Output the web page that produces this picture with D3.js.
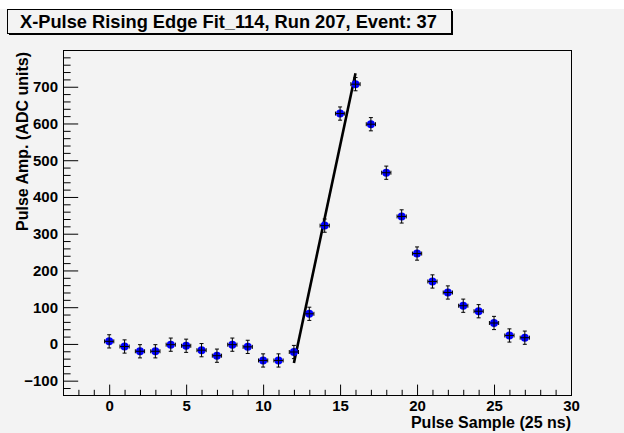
<!DOCTYPE html>
<html>
<head>
<meta charset="utf-8">
<script src="https://cdn.jsdelivr.net/npm/d3@7"></script>
<style>
  html, body { margin: 0; padding: 0; background: #f3f3f3; }
  svg { display: block; font-family: "Liberation Sans", Arial, Helvetica, sans-serif; }
</style>
</head>
<body>
<svg id="chart" width="624" height="433"></svg>
<script>
// Pulse samples (25 ns bins) and measured amplitudes in ADC units
const sampleIndex = [0, 1, 2, 3, 4, 5, 6, 7, 8, 9, 10, 11, 12, 13,
                     14, 15, 16, 17, 18, 19, 20, 21, 22, 23, 24, 25, 26, 27];
const amplitude   = [7, -7, -20, -20, -2, -5, -17, -32, -2, -8, -45, -45, -22, 82,
                     322, 627, 707, 598, 466, 347, 246, 170, 140, 104, 89, 57, 23, 17];
const sampleErr    = 0.3;   // half-width of horizontal error bar (samples)
const amplitudeErr = 18;    // half-height of vertical error bar (ADC units)

// Linear fit to the rising edge: end points of the fitted segment
const fitX = [12, 16];
const fitY = [-52, 737];

// Axis ticks
const xMajorTicks = [0, 5, 10, 15, 20, 25, 30];
const yMajorTicks = [-100, 0, 100, 200, 300, 400, 500, 600, 700];
const xDomain = [-3, 30];
const yDomain = [-139, 800];

const titleText  = "X-Pulse Rising Edge Fit_114, Run 207, Event: 37";
const xAxisTitle = "Pulse Sample (25 ns)";
const yAxisTitle = "Pulse Amp. (ADC units)";

const svg = d3.select("#chart");
const W = 624, H = 433;
const frame = { left: 63, right: 571, top: 50, bottom: 395 };

// canvas
svg.append("rect").attr("width", W).attr("height", H).attr("fill", "#f3f3f3");
svg.append("rect").attr("width", W).attr("height", 9).attr("fill", "#ffffff");

const x = d3.scaleLinear().domain(xDomain).range([frame.left, frame.right]);
const y = d3.scaleLinear().domain(yDomain).range([frame.bottom, frame.top]);

const xMinorTicks = d3.range(-3, 31).filter(v => v % 5 !== 0);
const yMinorTicks = d3.range(-120, 800, 20).filter(v => v % 100 !== 0);

const tickLenX = 10.4, tickLenY = 15.2;

// x axis: major ticks with labels, minor ticks without
const gx = svg.append("g").attr("transform", `translate(0,${frame.bottom})`);
gx.call(d3.axisBottom(x).tickValues(xMajorTicks).tickSize(-tickLenX).tickPadding(5)
          .tickFormat(d3.format("d")));
const gxMinor = svg.append("g").attr("transform", `translate(0,${frame.bottom})`);
gxMinor.call(d3.axisBottom(x).tickValues(xMinorTicks).tickSize(-tickLenX / 2).tickFormat(""));
gxMinor.select(".domain").remove();

// y axis
const gy = svg.append("g").attr("transform", `translate(${frame.left},0)`);
gy.call(d3.axisLeft(y).tickValues(yMajorTicks).tickSize(-tickLenY).tickPadding(5)
          .tickFormat(d3.format("d")));
const gyMinor = svg.append("g").attr("transform", `translate(${frame.left},0)`);
gyMinor.call(d3.axisLeft(y).tickValues(yMinorTicks).tickSize(-tickLenY / 2).tickFormat(""));
gyMinor.select(".domain").remove();

svg.selectAll(".tick line").attr("stroke", "#000").attr("stroke-width", 1);
svg.selectAll(".domain").remove();
svg.selectAll(".tick text")
  .attr("fill", "#000")
  .attr("font-size", 15)
  .attr("font-weight", "bold")
  .attr("font-family", "'Liberation Sans', Arial, sans-serif");

// frame
svg.append("rect")
  .attr("x", frame.left + 0.5).attr("y", frame.top + 0.5)
  .attr("width", frame.right - frame.left).attr("height", frame.bottom - frame.top)
  .attr("fill", "none").attr("stroke", "#000").attr("stroke-width", 1);

// axis titles
svg.append("text")
  .attr("x", frame.right).attr("y", 428)
  .attr("text-anchor", "end")
  .attr("font-size", 16).attr("font-weight", "bold")
  .text(xAxisTitle);

svg.append("text")
  .attr("transform", `translate(28,${frame.top + 2}) rotate(-90)`)
  .attr("text-anchor", "end")
  .attr("font-size", 16).attr("font-weight", "bold")
  .text(yAxisTitle);

// fit line
svg.append("line")
  .attr("x1", x(fitX[0])).attr("y1", y(fitY[0]))
  .attr("x2", x(fitX[1])).attr("y2", y(fitY[1]))
  .attr("stroke", "#000").attr("stroke-width", 2.6);

// data points with error bars
const pts = sampleIndex.map((s, i) => ({ s, a: amplitude[i] }));
const gp = svg.append("g");
const p = gp.selectAll("g.pt").data(pts).join("g").attr("class", "pt");

p.append("circle")
  .attr("cx", d => x(d.s)).attr("cy", d => y(d.a))
  .attr("r", 4).attr("fill", "#0000ff");

const cap = 2;
p.append("path")
  .attr("fill", "none").attr("stroke", "#000").attr("stroke-width", 1)
  .attr("d", d => {
    const cx = x(d.s), cy = y(d.a);
    const x0 = x(d.s - sampleErr), x1 = x(d.s + sampleErr);
    const y0 = y(d.a - amplitudeErr), y1 = y(d.a + amplitudeErr);
    return `M${x0},${cy}H${x1}` +
           `M${cx},${y0}V${y1}` +
           `M${cx - cap},${y0}H${cx + cap}` +
           `M${cx - cap},${y1}H${cx + cap}` +
           `M${x0},${cy - cap}V${cy + cap}` +
           `M${x1},${cy - cap}V${cy + cap}`;
  });

// title box with shadow
const tb = { x: 7, y: 9, w: 444, h: 24 };
svg.append("rect")
  .attr("x", tb.x + 2).attr("y", tb.y + 2).attr("width", tb.w).attr("height", tb.h)
  .attr("fill", "#000");
svg.append("rect")
  .attr("x", tb.x + 0.5).attr("y", tb.y + 0.5).attr("width", tb.w).attr("height", tb.h)
  .attr("fill", "#f3f3f3").attr("stroke", "#000").attr("stroke-width", 1);
svg.append("text")
  .attr("x", 20).attr("y", 27.5)
  .attr("font-size", 18.25).attr("font-weight", "bold")
  .text(titleText);
</script>
</body>
</html>
